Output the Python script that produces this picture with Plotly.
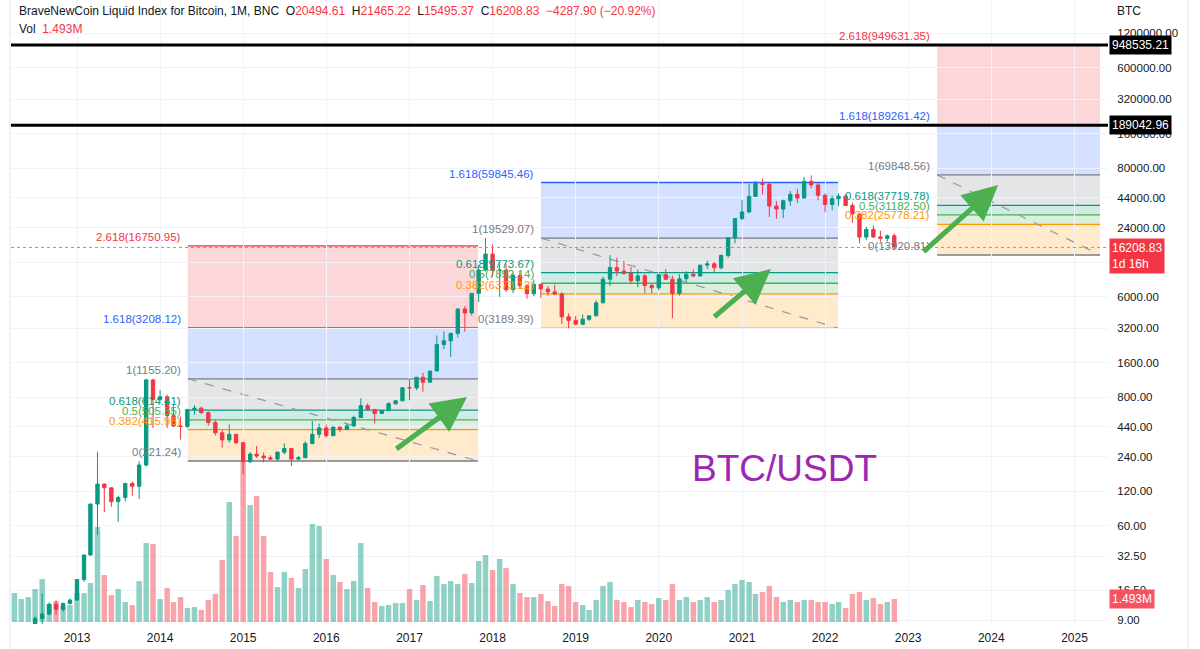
import numpy as np
import pandas as pd
import plotly.graph_objects as go

# ---------------- data ----------------
months = pd.date_range("2012-04-01", periods=128, freq="MS")

open_ = [4.90, 5.00, 5.15, 6.70, 9.30, 10.20, 12.40, 11.20, 12.60,
         13.50, 20.40, 33.40, 93.00, 139.00, 129.00, 97.50, 106.00, 141.00, 133.00, 204.00, 1130.00,
         760.00, 805.00, 550.00, 447.00, 444.00, 622.00, 640.00, 585.00, 480.00, 390.00, 338.00, 378.00,
         320.00, 218.00, 254.00, 244.00, 236.00, 230.00, 264.00, 284.00, 230.00, 236.00, 314.00, 378.00,
         430.00, 368.00, 437.00, 416.00, 448.00, 531.00, 673.00, 624.00, 575.00, 609.00, 700.00, 742.00,
         968.00, 962.00, 1190.00, 1080.00, 1350.00, 2300.00, 2480.00, 2875.00, 4700.00, 4340.00, 6440.00, 10300.00,
         14200.00, 10200.00, 10300.00, 6930.00, 9250.00, 7500.00, 6390.00, 7730.00, 7030.00, 6630.00, 6350.00, 4020.00,
         3740.00, 3460.00, 3830.00, 4100.00, 5320.00, 8570.00, 10820.00, 10080.00, 9590.00, 8300.00, 9150.00, 7550.00,
         7200.00, 9350.00, 8550.00, 6430.00, 8630.00, 9450.00, 9140.00, 11350.00, 11660.00, 10780.00, 13800.00, 19700.00,
         28950.00, 33100.00, 45200.00, 58800.00, 57700.00, 37300.00, 35050.00, 41500.00, 47150.00, 43800.00, 61300.00, 57000.00,
         46300.00, 38450.00, 43200.00, 45500.00, 37700.00, 31800.00, 19950.00, 23300.00, 20050.00, 19420.00, 20494.61]
high = [5.40, 5.20, 6.80, 9.70, 15.40, 12.90, 13.40, 12.80, 13.90,
        20.60, 33.60, 94.00, 266.00, 140.00, 130.00, 110.00, 141.00, 147.00, 220.00, 1155.20, 1150.00,
        920.00, 840.00, 680.00, 540.00, 630.00, 680.00, 660.00, 600.00, 500.00, 415.00, 460.00, 380.00,
        320.00, 265.00, 300.00, 262.00, 248.00, 268.00, 316.00, 286.00, 245.00, 330.00, 495.00, 470.00,
        460.00, 445.00, 440.00, 470.00, 550.00, 780.00, 704.00, 625.00, 612.00, 720.00, 750.00, 980.00,
        1150.00, 1200.00, 1300.00, 1350.00, 2760.00, 3000.00, 2930.00, 4750.00, 4980.00, 6470.00, 11400.00, 19529.07,
        17200.00, 11800.00, 11700.00, 9750.00, 10000.00, 7760.00, 8500.00, 7750.00, 7420.00, 7680.00, 6600.00, 4300.00,
        4080.00, 4200.00, 4100.00, 5600.00, 9000.00, 13880.00, 13200.00, 12330.00, 10900.00, 10400.00, 9500.00, 7750.00,
        9600.00, 10500.00, 9200.00, 9450.00, 10070.00, 10400.00, 11440.00, 12480.00, 12070.00, 14100.00, 19900.00, 29300.00,
        41950.00, 58350.00, 61800.00, 64850.00, 59550.00, 41300.00, 42400.00, 50500.00, 52900.00, 66900.00, 69000.00, 59100.00,
        47950.00, 45800.00, 48200.00, 47450.00, 40000.00, 31950.00, 24650.00, 25200.00, 22700.00, 21000.00, 21465.22]
low = [4.70, 4.90, 5.15, 6.50, 7.10, 9.90, 10.00, 10.60, 12.30,
       13.30, 19.50, 33.00, 50.00, 79.00, 88.00, 65.00, 98.00, 110.00, 103.00, 198.00, 430.00,
       740.00, 430.00, 440.00, 340.00, 430.00, 560.00, 570.00, 450.00, 370.00, 290.00, 320.00, 310.00,
       170.00, 212.00, 235.00, 215.00, 228.00, 220.00, 253.00, 200.00, 225.00, 236.00, 310.00, 350.00,
       355.00, 365.00, 395.00, 412.00, 440.00, 525.00, 605.00, 470.00, 570.00, 605.00, 685.00, 740.00,
       750.00, 920.00, 890.00, 1070.00, 1350.00, 2100.00, 1800.00, 2650.00, 2970.00, 4120.00, 5400.00, 10000.00,
       9000.00, 6000.00, 6600.00, 6450.00, 7050.00, 5770.00, 6070.00, 5880.00, 6150.00, 6200.00, 3480.00, 3189.39,
       3400.00, 3400.00, 3700.00, 4050.00, 5320.00, 7500.00, 9100.00, 9350.00, 7750.00, 7300.00, 6500.00, 6430.00,
       6860.00, 8450.00, 3900.00, 6150.00, 8120.00, 8900.00, 8970.00, 10530.00, 9880.00, 10420.00, 13200.00, 17600.00,
       28100.00, 32300.00, 44950.00, 47000.00, 30000.00, 28800.00, 29300.00, 37300.00, 39600.00, 43300.00, 53300.00, 42000.00,
       32950.00, 34300.00, 37200.00, 37600.00, 26700.00, 17600.00, 18800.00, 19600.00, 18200.00, 18200.00, 15495.37]
close = [5.00, 5.15, 6.70, 9.30, 10.20, 12.40, 11.20, 12.60, 13.50,
         20.40, 33.40, 93.00, 139.00, 129.00, 97.50, 106.00, 141.00, 133.00, 204.00, 1130.00, 760.00,
         805.00, 550.00, 447.00, 444.00, 622.00, 640.00, 585.00, 480.00, 390.00, 338.00, 378.00, 320.00,
         218.00, 254.00, 244.00, 236.00, 230.00, 264.00, 284.00, 230.00, 236.00, 314.00, 378.00, 430.00,
         368.00, 437.00, 416.00, 448.00, 531.00, 673.00, 624.00, 575.00, 609.00, 700.00, 742.00, 963.00,
         962.00, 1190.00, 1080.00, 1350.00, 2300.00, 2480.00, 2875.00, 4700.00, 4340.00, 6440.00, 10300.00, 14200.00,
         10200.00, 10300.00, 6930.00, 9250.00, 7500.00, 6390.00, 7730.00, 7030.00, 6630.00, 6350.00, 4020.00, 3740.00,
         3460.00, 3830.00, 4100.00, 5320.00, 8570.00, 10820.00, 10080.00, 9590.00, 8300.00, 9150.00, 7550.00, 7200.00,
         9350.00, 8550.00, 6430.00, 8630.00, 9450.00, 9140.00, 11350.00, 11660.00, 10780.00, 13800.00, 19700.00, 28950.00,
         33100.00, 45200.00, 58800.00, 57700.00, 37300.00, 35050.00, 41500.00, 47150.00, 43800.00, 61300.00, 57000.00, 46300.00,
         38450.00, 43200.00, 45500.00, 37700.00, 31800.00, 19950.00, 23300.00, 20050.00, 19420.00, 20494.61, 16208.83]
volume_m = [1.88, 1.49, 1.62, 2.14, 2.79, 1.17, 1.36, 1.04, 1.10, 1.88,
            1.88, 2.53, 6.17, 3.05, 1.75, 2.14, 1.30, 1.10, 2.66, 5.13,
            5.06, 1.49, 2.21, 1.30, 1.62, 0.91, 0.97, 0.78, 1.43, 1.82,
            4.02, 7.79, 5.58, 10.38, 7.59, 8.18, 5.58, 3.25, 2.27, 3.25,
            2.86, 2.21, 3.44, 6.36, 6.23, 4.09, 3.05, 2.60, 2.14, 2.66,
            5.13, 2.21, 1.30, 1.04, 1.10, 1.23, 1.23, 2.14, 1.43, 2.40,
            1.36, 2.99, 2.47, 2.66, 2.47, 3.12, 2.53, 3.96, 4.35, 3.37,
            4.09, 3.50, 2.47, 1.88, 1.62, 1.62, 1.82, 1.36, 1.04, 2.47,
            2.34, 1.30, 1.10, 0.78, 1.43,
            2.34, 2.60, 1.43, 1.30, 0.97, 1.43, 1.30, 1.17, 1.56, 1.43,
            2.47, 1.43, 1.62, 1.30, 1.43, 1.62, 1.30, 1.43, 2.08, 2.47,
            2.73, 2.60, 1.82, 1.95, 2.34, 1.62, 1.30, 1.43, 1.30, 1.43,
            1.43, 1.30, 1.30, 1.17, 1.30, 0.91, 1.82, 1.95, 1.43, 1.56,
            1.17, 1.30, 1.493]

price_ticks = [9, 16.5, 32.5, 60, 120, 240, 440, 800, 1600, 3200, 6000, 12000,
               24000, 44000, 80000, 160000, 320000, 600000, 1200000]
# 12000.00 sits fully under the last-price label in the reference, so its text is left blank
price_tick_text = ["" if v == 12000 else "%.2f" % v for v in price_ticks]
year_ticks = [str(y) for y in range(2013, 2026)]

fib_levels = ["0", "0.382", "0.5", "0.618", "1", "1.618", "2.618"]
fib1_dates = ("2014-05-03", "2017-10-29")
fib1_prices = [221.24, 415.98, 505.55, 614.41, 1155.20, 3208.12, 16750.95]
fib2_dates = ("2018-08-02", "2022-02-27")
fib2_prices = [3189.39, 6373.12, 7892.14, 9773.67, 19529.07, 59845.46]
fib3_dates = ("2023-05-08", "2025-04-23")
fib3_prices = [13920.81, 25778.21, 31182.50, 37719.78, 69848.56, 189261.42, 949631.35]

hlines = [948535.21, 189042.96]
last_price = 16208.83
last_volume = 1.493

arrow_tails = [("2016-10-29", 276), ("2020-08-26", 3923), ("2023-03-03", 14500)]
arrow_heads = [("2017-09-11", 801), ("2021-05-08", 10510), ("2024-01-31", 56900)]

# ---------------- style ----------------
UP = "#089981"
DOWN = "#F23645"
TXT = "#131722"
GRID = "#F0F3FA"
FONT = "Liberation Sans, Arial, sans-serif"
FIB_COLORS = {"0": "#787B86", "0.382": "#FF9800", "0.5": "#4CAF50", "0.618": "#089981",
              "1": "#787B86", "1.618": "#2962FF", "2.618": "#F23645"}


def rgba(hexc, a):
    h = hexc.lstrip("#")
    return "rgba(%d,%d,%d,%.2f)" % (int(h[0:2], 16), int(h[2:4], 16), int(h[4:6], 16), a)


fig = go.Figure()

vol_colors = [rgba(UP, 0.45) if c >= o else rgba(DOWN, 0.45) for o, c in zip(open_, close)]
fig.add_trace(go.Bar(x=months, y=volume_m, marker=dict(color=vol_colors, line=dict(width=0)),
                     width=24 * 86400000, yaxis="y", hoverinfo="skip", showlegend=False))
fig.add_trace(go.Candlestick(x=months, open=open_, high=high, low=low, close=close, yaxis="y2",
                             increasing=dict(line=dict(color=UP, width=1), fillcolor=UP),
                             decreasing=dict(line=dict(color=DOWN, width=1), fillcolor=DOWN),
                             whiskerwidth=0, hoverinfo="skip", showlegend=False))

shapes = []
annotations = []

for (d0, d1), prices in [(fib1_dates, fib1_prices), (fib2_dates, fib2_prices), (fib3_dates, fib3_prices)]:
    levels = fib_levels[:len(prices)]
    for i in range(1, len(prices)):
        shapes.append(dict(type="rect", xref="x", yref="y2", x0=d0, x1=d1, y0=prices[i - 1], y1=prices[i],
                           fillcolor=rgba(FIB_COLORS[levels[i]], 0.2), line=dict(width=0), layer="below"))
    for lv, p in zip(levels, prices):
        shapes.append(dict(type="line", xref="x", yref="y2", x0=d0, x1=d1, y0=p, y1=p,
                           line=dict(color=FIB_COLORS[lv], width=1.3), layer="below"))
        annotations.append(dict(xref="x", yref="y2", x=d0, y=np.log10(p), xanchor="right", yanchor="bottom",
                                xshift=-5, yshift=1, showarrow=False, text="%s(%.2f)" % (lv, p),
                                font=dict(family=FONT, size=11.5, color=FIB_COLORS[lv])))
    shapes.append(dict(type="line", xref="x", yref="y2", x0=d0, x1=d1, y0=prices[4], y1=prices[0],
                       line=dict(color="#9598A1", width=1.2, dash="dash"), layer="below"))

for v in hlines:
    shapes.append(dict(type="line", xref="paper", yref="y2", x0=0, x1=1, y0=v, y1=v,
                       line=dict(color="#000000", width=3), layer="above"))
    annotations.append(dict(xref="paper", yref="y2", x=1, y=np.log10(v), xanchor="left", yanchor="middle",
                            xshift=1, showarrow=False, text="%.2f" % v, bgcolor="#000000", borderpad=2,
                            font=dict(family=FONT, size=12, color="#FFFFFF")))

shapes.append(dict(type="line", xref="paper", yref="y2", x0=0, x1=1, y0=last_price, y1=last_price,
                   line=dict(color="#F5707B", width=1, dash="dot"), layer="above"))
annotations.append(dict(xref="paper", yref="y2", x=1, y=np.log10(last_price), xanchor="left", yanchor="top",
                        xshift=1, yshift=9, showarrow=False, align="left",
                        text="%.2f<br>1d 16h" % last_price, bgcolor=DOWN, borderpad=2,
                        font=dict(family=FONT, size=12, color="#FFFFFF")))
annotations.append(dict(xref="paper", yref="y", x=1, y=last_volume, xanchor="left", yanchor="middle",
                        xshift=1, showarrow=False, text="%.3fM" % last_volume, bgcolor="#F7525F", borderpad=2,
                        font=dict(family=FONT, size=12, color="#FFFFFF")))

shapes.append(dict(type="line", xref="paper", yref="paper", x0=-0.0009, x1=-0.0009, y0=-0.04, y1=1,
                   line=dict(color="#E0E3EB", width=1)))
shapes.append(dict(type="line", xref="paper", yref="paper", x0=1.0729, x1=1.0729, y0=-0.04, y1=1,
                   line=dict(color="#E0E3EB", width=1)))

for (tx, ty), (hx, hy) in zip(arrow_tails, arrow_heads):
    annotations.append(dict(xref="x", yref="y2", x=hx, y=np.log10(hy), axref="x", ayref="y2",
                            ax=tx, ay=np.log10(ty), text="", showarrow=True, arrowhead=2,
                            arrowsize=1.4, arrowwidth=5, arrowcolor="#4CAF50", standoff=0))

annotations.append(dict(xref="x", yref="y2", x="2021-07-08", y=np.log10(192), xanchor="center",
                        yanchor="middle", showarrow=False, text="BTC/USDT",
                        font=dict(family=FONT, size=37, color="#9C27B0")))

red = lambda s: "<span style='color:%s'>%s</span>" % (DOWN, s)
sp = "\u00a0\u00a0"
header = ("BraveNewCoin Liquid Index for Bitcoin, 1M, BNC" + sp + "O" + red("20494.61") + sp + "H" + red("21465.22")
          + sp + "L" + red("15495.37") + sp + "C" + red("16208.83") + sp + red("\u22124287.90 (\u221220.92%)"))
annotations.append(dict(xref="paper", yref="paper", x=0, y=1, xanchor="left", yanchor="top", xshift=6, yshift=-2,
                        showarrow=False, text=header, font=dict(family=FONT, size=12, color=TXT)))
annotations.append(dict(xref="paper", yref="paper", x=0, y=1, xanchor="left", yanchor="top", xshift=6, yshift=-20,
                        showarrow=False, text="Vol" + sp + red("%.3fM" % last_volume),
                        font=dict(family=FONT, size=12, color=TXT)))
annotations.append(dict(xref="paper", yref="paper", x=1, y=1, xanchor="left", yanchor="top", xshift=7, yshift=-2,
                        showarrow=False, text="BTC", font=dict(family=FONT, size=12, color=TXT)))

fig.update_layout(
    width=1200, height=649,
    margin=dict(l=11, r=92, t=0, b=25),
    paper_bgcolor="#FFFFFF", plot_bgcolor="#FFFFFF",
    showlegend=False, hovermode=False, dragmode=False,
    boxgap=0.25,
    shapes=shapes, annotations=annotations,
    xaxis=dict(type="date", range=["2012-03-17", "2025-05-28"],
               tickvals=[y + "-01-01" for y in year_ticks], ticktext=year_ticks,
               showgrid=True, gridcolor=GRID, gridwidth=1, zeroline=False, showline=False,
               ticks="outside", ticklen=3, tickcolor="rgba(0,0,0,0)",
               tickfont=dict(family=FONT, size=12, color=TXT), rangeslider=dict(visible=False),
               fixedrange=True),
    yaxis=dict(range=[-0.13, 40.376], visible=False, showgrid=False, fixedrange=True),
    yaxis2=dict(type="log", overlaying="y", side="right", range=[0.9211, 6.3709],
                tickvals=price_ticks, ticktext=price_tick_text,
                showgrid=True, gridcolor=GRID, gridwidth=1, zeroline=False, showline=False,
                ticks="outside", ticklen=6, tickcolor="rgba(0,0,0,0)",
                tickfont=dict(family=FONT, size=11.5, color=TXT), fixedrange=True),
)

fig.write_html("out.html", include_plotlyjs=True, config={"displayModeBar": False, "staticPlot": True})
